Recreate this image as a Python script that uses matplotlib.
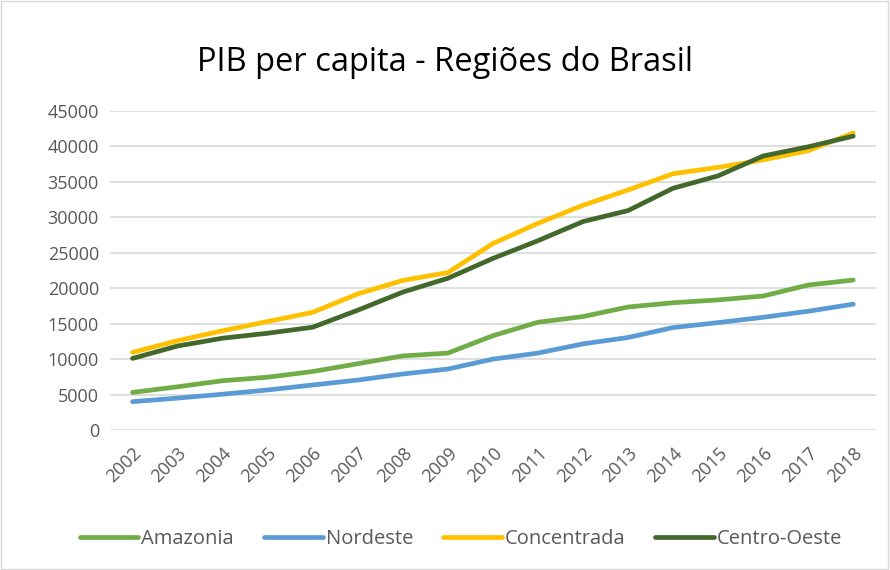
import matplotlib.pyplot as plt
from matplotlib.patches import Rectangle

anos = [str(a) for a in range(2002, 2019)]

amazonia = [5300, 6100, 6950, 7450, 8250, 9350, 10450, 10850, 13300,
            15200, 16000, 17350, 17950, 18350, 18900, 20450, 21150]
nordeste = [4000, 4500, 5050, 5650, 6350, 7050, 7900, 8600, 10000,
            10850, 12150, 13050, 14450, 15150, 15900, 16750, 17750]
concentrada = [10950, 12600, 14000, 15300, 16600, 19200, 21100, 22200, 26300,
               29150, 31700, 33850, 36150, 37050, 38100, 39400, 41900]
centro_oeste = [10100, 11850, 12950, 13650, 14500, 16900, 19450, 21400, 24200,
                26700, 29400, 30950, 34100, 35850, 38650, 39950, 41450]

series = [
    ('Amazonia', amazonia, '#70AD47'),
    ('Nordeste', nordeste, '#5B9BD5'),
    ('Concentrada', concentrada, '#FFC000'),
    ('Centro-Oeste', centro_oeste, '#43682B'),
]

plt.rcParams['font.family'] = ['Open Sans', 'DejaVu Sans']

fig = plt.figure(figsize=(8.9, 5.7), dpi=100)
ax = fig.add_axes([0.1236, 0.2456, 0.8604, 0.5597])

x = list(range(len(anos)))
for nome, valores, cor in series:
    ax.plot(x, valores, color=cor, linewidth=3.4, solid_capstyle='round', label=nome)

ax.set_xlim(-0.5, len(anos) - 0.5)
ax.set_ylim(0, 45000)
ax.set_yticks(range(0, 45001, 5000))
ax.set_xticks(x)
ax.set_xticklabels(anos, rotation=45, ha='right', rotation_mode='anchor')
ax.tick_params(axis='both', length=0, labelsize=13, colors='#595959', pad=8)
ax.tick_params(axis='x', pad=10)
ax.grid(axis='y', color='#D9D9D9', linewidth=1.2)
ax.set_axisbelow(True)
for s in ax.spines.values():
    s.set_visible(False)

fig.suptitle('PIB per capita - Regiões do Brasil', y=0.92, fontsize=23.5, color='black')

fig.legend(loc='lower center', bbox_to_anchor=(0.518, 0.005), ncol=4, frameon=False,
           fontsize=14.5, labelcolor='#595959', handlelength=2.9, handletextpad=0.15,
           columnspacing=1.5)

fig.patches.append(Rectangle((0.001, 0.002), 0.997, 0.996, transform=fig.transFigure,
                             fill=False, edgecolor='#D9D9D9', linewidth=1))

fig.savefig('out.png', dpi=100)
